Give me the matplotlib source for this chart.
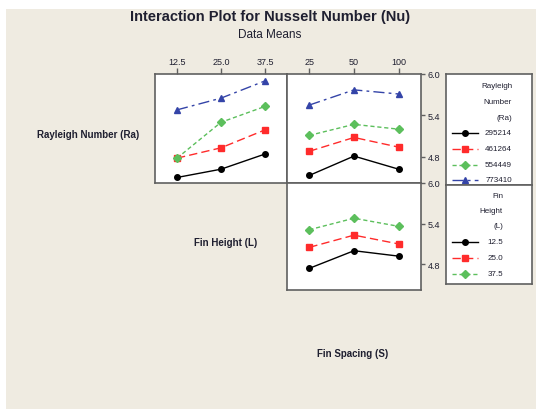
import matplotlib
matplotlib.use("Agg")
import matplotlib.pyplot as plt
from matplotlib import font_manager
from matplotlib.lines import Line2D
from matplotlib.patches import Rectangle

# factor levels
ra_levels = ["295214", "461264", "554449", "773410"]
l_levels = ["12.5", "25.0", "37.5"]
s_levels = ["25", "50", "100"]

# mean Nu, one row per Ra level, columns across L levels
nu_ra_l = [
    [4.50, 4.62, 4.84],
    [4.78, 4.93, 5.19],
    [4.78, 5.30, 5.53],
    [5.48, 5.65, 5.90],
]
# mean Nu, one row per Ra level, columns across S levels
nu_ra_s = [
    [4.53, 4.81, 4.62],
    [4.88, 5.08, 4.94],
    [5.11, 5.27, 5.20],
    [5.55, 5.77, 5.71],
]
# mean Nu, one row per L level, columns across S levels
nu_l_s = [
    [4.74, 5.00, 4.92],
    [5.05, 5.23, 5.10],
    [5.31, 5.48, 5.36],
]

y_ticks = [4.8, 5.4, 6.0]
y_lim = (4.42, 6.0)

W, H = 536, 410
BG = "#efebe1"
INK = "#1f1f30"
SPINE = "#606060"

styles = [
    dict(color="black", ls="-", marker="o", ms=4),
    dict(color="#ff2b2b", ls=(0, (6, 3)), marker="s", ms=4.5),
    dict(color="#5cbf5c", ls=(0, (3, 2)), marker="D", ms=4),
    dict(color="#3444a8", ls=(0, (8, 3, 2, 3)), marker="^", ms=5),
]

names = {f.name for f in font_manager.fontManager.ttflist}
FONT = "Liberation Sans Narrow" if "Liberation Sans Narrow" in names else "Liberation Sans"
plt.rcParams["font.family"] = [FONT, "DejaVu Sans"]


def box(x0, y0, x1, y1):
    """pixel box (top-left origin) -> figure rect"""
    return [x0 / W, 1 - y1 / H, (x1 - x0) / W, (y1 - y0) / H]


def fx(x):
    return x / W


def fy(y):
    return 1 - y / H


fig = plt.figure(figsize=(W / 100, H / 100), dpi=100)
fig.patch.set_facecolor("white")
fig.add_artist(Rectangle((fx(6), 0), 1 - fx(6), fy(10), transform=fig.transFigure,
                         facecolor=BG, edgecolor="none", zorder=-10))


def panel(rect, series, xlabels=None, right_ticks=False):
    ax = fig.add_axes(rect)
    ax.set_facecolor("white")
    xs = [1, 2, 3]
    for vals, st in zip(series, styles):
        ax.plot(xs, vals, lw=1, color=st["color"], ls=st["ls"], marker=st["marker"],
                ms=st["ms"], mfc=st["color"], mec=st["color"])
    ax.set_xlim(0.5, 3.5)
    ax.set_ylim(*y_lim)
    for sp in ax.spines.values():
        sp.set_color(SPINE)
        sp.set_linewidth(1.2)
    if xlabels:
        ax.xaxis.tick_top()
        ax.set_xticks(xs, xlabels)
        ax.tick_params(axis="x", direction="out", length=4, width=1, color=SPINE,
                       labelsize=6.5, labelcolor=INK, pad=2)
    else:
        ax.set_xticks([])
    if right_ticks:
        ax.yaxis.tick_right()
        ax.set_yticks(y_ticks, [f"{t:.1f}" for t in y_ticks])
        ax.tick_params(axis="y", direction="out", length=3, width=1, color=SPINE,
                       labelsize=6.5, labelcolor=INK, pad=2)
    else:
        ax.set_yticks([])
    return ax


panel(box(155, 75, 287, 184), nu_ra_l, xlabels=l_levels)
panel(box(287, 75, 421, 184), nu_ra_s, xlabels=s_levels, right_ticks=True)
panel(box(287, 184, 421, 291), nu_l_s, right_ticks=True)


def legend_box(rect, title_lines, labels, right_px, rows_y):
    ax = fig.add_axes(rect)
    ax.set_xlim(rect[0] * W, (rect[0] + rect[2]) * W)
    ax.set_ylim((1 - rect[1]) * H, (1 - rect[1] - rect[3]) * H)
    ax.set_facecolor("white")
    ax.set_xticks([])
    ax.set_yticks([])
    for sp in ax.spines.values():
        sp.set_color(SPINE)
        sp.set_linewidth(1.2)
    for ln, y in zip(title_lines, rows_y):
        ax.text(right_px, y, ln, ha="right", va="center", fontsize=5.8, color=INK)
    for lab, st, y in zip(labels, styles, rows_y[len(title_lines):]):
        ax.add_line(Line2D([452, 478], [y, y], lw=1, color=st["color"], ls=st["ls"]))
        ax.plot([465], [y], marker=st["marker"], ms=st["ms"], color=st["color"])
        ax.text(right_px, y, lab, ha="right", va="center", fontsize=5.8, color=INK)


legend_box(box(446, 75, 532, 186), ["Rayleigh", "Number", "(Ra)"], ra_levels, 512,
           [87, 103, 119, 134, 150, 166, 181])
legend_box(box(446, 186, 532, 285), ["Fin", "Height", "(L)"], l_levels, 503,
           [197, 212, 227, 243, 259, 275])

fig.text(fx(270), fy(17), "Interaction Plot for Nusselt Number (Nu)", ha="center",
         va="center", fontsize=10.5, fontweight="bold", color=INK)
fig.text(fx(270), fy(35), "Data Means", ha="center", va="center", fontsize=8.5, color=INK)

fig.text(fx(88), fy(135), "Rayleigh Number (Ra)", ha="center", va="center",
         fontsize=7, fontweight="bold", color=INK)
fig.text(fx(226), fy(243), "Fin Height (L)", ha="center", va="center",
         fontsize=7, fontweight="bold", color=INK)
fig.text(fx(353), fy(354), "Fin Spacing (S)", ha="center", va="center",
         fontsize=7, fontweight="bold", color=INK)

fig.savefig("out.png", dpi=100, facecolor=fig.get_facecolor())
